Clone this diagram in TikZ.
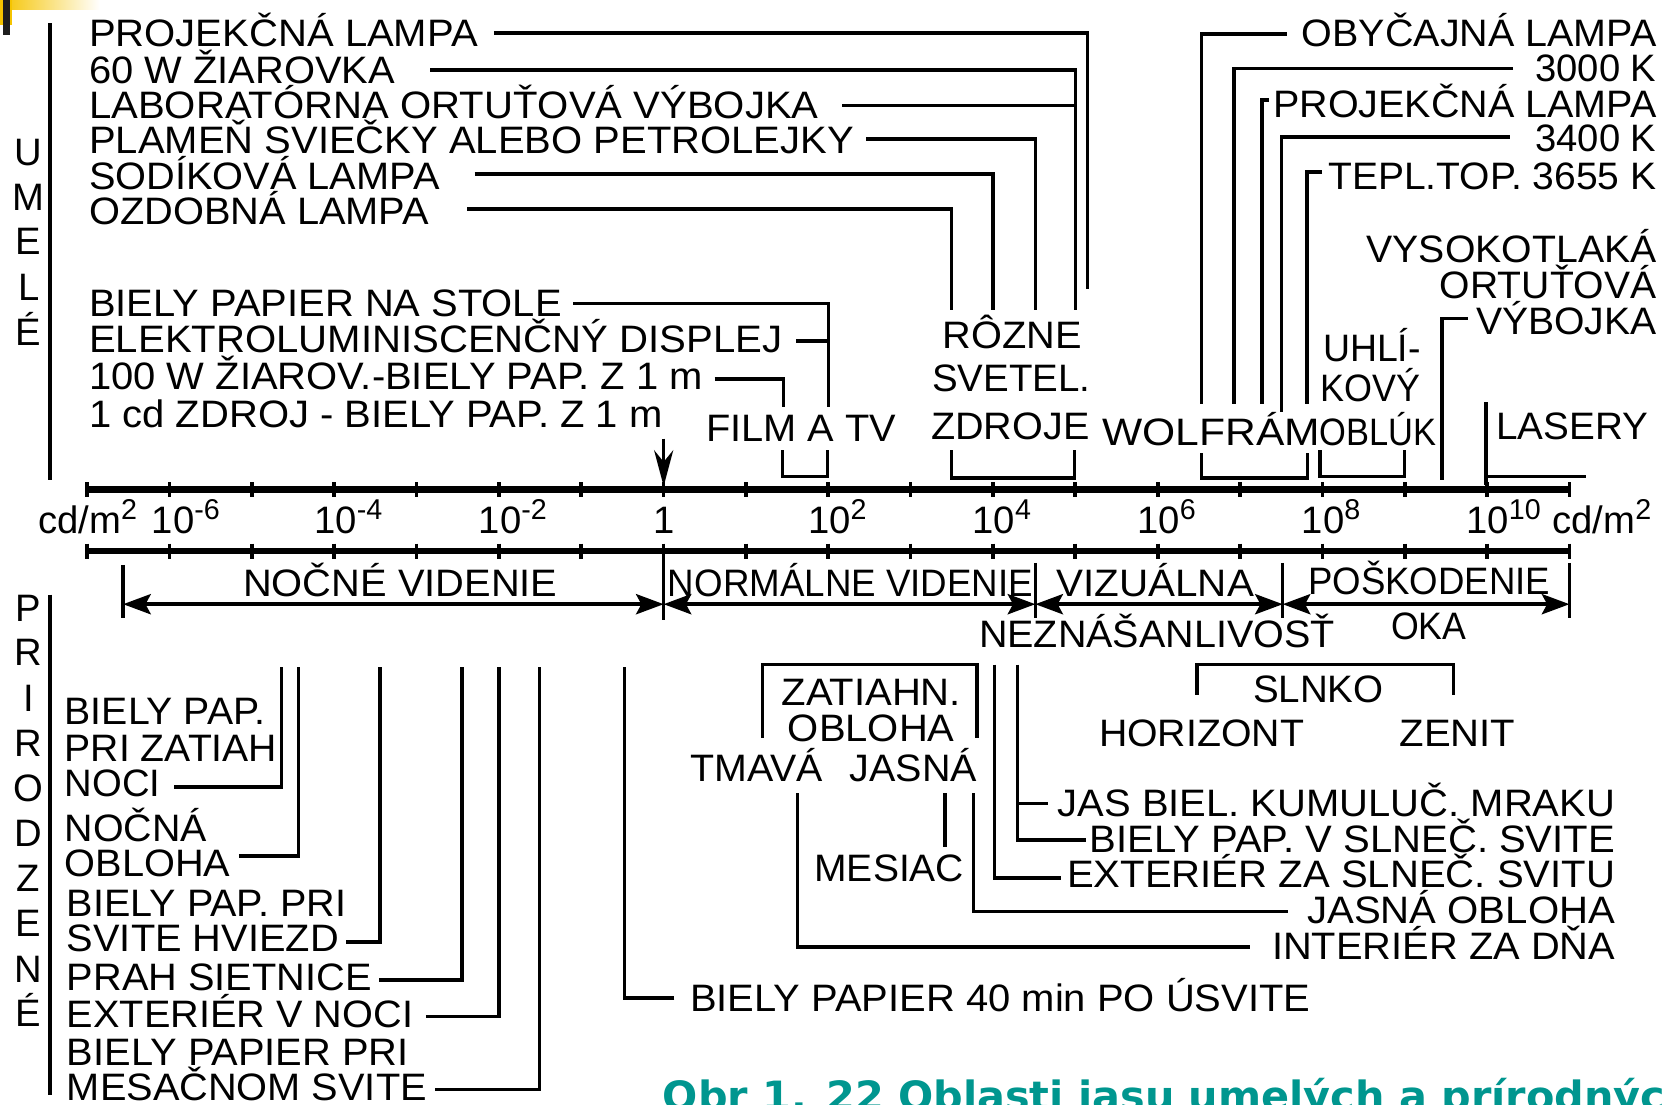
\documentclass[tikz,border=0pt]{standalone}
\usepackage{fontspec}
\setmainfont{Liberation Sans}
\newfontfamily\capfont{DejaVu Sans}
\usepackage{graphicx}
\usetikzlibrary{arrows.meta}
\definecolor{gold}{RGB}{245,196,0}
\definecolor{darkbar}{RGB}{30,30,30}
\definecolor{capteal}{RGB}{0,150,143}
\newsavebox\fitbox
\newdimen\fitw
\newcommand\fitto[2]{\sbox\fitbox{#2}\fitw=\wd\fitbox\pgfmathsetmacro\fitratio{(#1)/\fitw}\scalebox{\fitratio}[1]{\usebox\fitbox}}
\newcommand\expo[1]{\raisebox{13pt}{\fontsize{27}{27}\selectfont #1}}
\newcommand\putlab[5]{\node[lbl] (#1) at (#2,#4) {\fitto{#3-#2}{#5}};}
\begin{document}
\begin{tikzpicture}[x=1pt,y=-1pt,
  lbl/.style={anchor=base west,inner sep=0pt,outer sep=0pt,font=\fontsize{36}{36}\selectfont},
  vl/.style={anchor=base,inner sep=0pt,font=\fontsize{36}{36}\selectfont},
  ln/.style={line width=3.2pt},
  axisln/.style={line width=6pt},
  tk/.style={line width=3.5pt},
  rng/.style={line width=3.4pt,{Stealth[length=26pt,width=19pt,inset=5pt]}-{Stealth[length=26pt,width=19pt,inset=5pt]}}]
\useasboundingbox (0,0) rectangle (1568,1040);
\clip (0,0) rectangle (1568,1040);
% corner decoration
\shade[left color=gold,right color=white] (0,0) rectangle (94,9);
\fill[gold] (0,0) rectangle (11,24);
\fill[darkbar] (3,0) rectangle (9.4,33);
% side bars
\draw[ln] (47,22) -- (47,452);
\draw[ln] (47,560) -- (47,1031);
\foreach \l/\y [count=\i] in {U/156,M/198,E/240,L/283,É/325}
  \node[vl] (u\i) at (27,\y) {\l};
\foreach \l/\y [count=\i] in {P/585,R/627,I/670,R/712,O/755,D/797,Z/840,E/882,N/925,É/967}
  \node[vl] (p\i) at (27,\y) {\l};
% axes
\draw[axisln] (82,461) -- (1478,461);
\draw[axisln] (82,519) -- (1478,519);
\foreach \k in {0,...,18}{
  \draw[tk] ({82+77.556*\k},454) -- ++(0,14);
  \draw[tk] ({82+77.556*\k},512) -- ++(0,14);}
\node[lbl] (cdl) at (36,502) {cd/m\expo{2}};
\node[lbl] (m6) at (143,502) {10\expo{-6}};
\node[lbl] (m4) at (296,502) {10\expo{-4}};
\node[lbl] (m2) at (451,502) {10\expo{-2}};
\node[vl] (one) at (625,502) {1};
\node[lbl] (p2) at (761,502) {10\expo{2}};
\node[lbl] (p4) at (916,502) {10\expo{4}};
\node[lbl] (p6) at (1071,502) {10\expo{6}};
\node[lbl] (p8) at (1226,502) {10\expo{8}};
\node[lbl] (p10) at (1381,502) {10\expo{10}};
\node[lbl] (cdr) at (1462,502) {cd/m\expo{2}};
% upper-left labels
\putlab{a1}{84}{450}{44}{PROJEKČNÁ LAMPA}
\putlab{a2}{84}{372}{78.5}{60 W ŽIAROVKA}
\putlab{a3}{84}{771}{112}{LABORATÓRNA ORTUŤOVÁ VÝBOJKA}
\putlab{a4}{84}{804}{145}{PLAMEŇ SVIEČKY ALEBO PETROLEJKY}
\putlab{a5}{84}{414}{178}{SODÍKOVÁ LAMPA}
\putlab{a6}{84}{404}{211}{OZDOBNÁ LAMPA}
\draw[ln] (465,31) -- (1024,31) -- (1024,272);
\draw[ln] (405,66) -- (1013,66) -- (1013,292);
\draw[ln] (793,99.5) -- (1013,99.5);
\draw[ln] (816,131) -- (975,131) -- (975,292);
\draw[ln] (447,164) -- (935,164) -- (935,292);
\draw[ln] (440,197) -- (896,197) -- (896,292);
\putlab{b1}{84}{529}{298}{BIELY PAPIER NA STOLE}
\putlab{b2}{84}{737}{332}{ELEKTROLUMINISCENČNÝ DISPLEJ}
\putlab{b3}{84}{662}{367}{100 W ŽIAROV.-BIELY PAP. Z 1 m}
\putlab{b4}{84}{624}{403}{1 cd ZDROJ - BIELY PAP. Z 1 m}
\draw[ln] (540,286) -- (780,286) -- (780,383);
\draw[ln] (750,321) -- (780,321);
\draw[ln] (673,357) -- (738,357) -- (738,383);
\draw[ln,-{Stealth[length=34pt,width=18pt,inset=11pt]}] (625,413) -- (625,458);
\putlab{c1}{665}{844}{416}{FILM A TV}
\putlab{c2}{888}{1019}{328}{RÔZNE}
\putlab{c3}{878}{1027}{369}{SVETEL.}
\putlab{c4}{877}{1026}{414}{ZDROJE}
\draw[ln] (737,424) -- (737,449) -- (779,449) -- (779,424);
\draw[ln] (896,424) -- (896,450) -- (1012,450) -- (1012,424);
% upper-right labels
\putlab{d1}{1226}{1560}{44}{OBYČAJNÁ LAMPA}
\putlab{d2}{1446}{1560}{77}{3000 K}
\putlab{d3}{1199}{1560}{111}{PROJEKČNÁ LAMPA}
\putlab{d4}{1446}{1560}{143}{3400 K}
\putlab{d5}{1251}{1560}{178}{TEPL.TOP. 3655 K}
\putlab{d6}{1287}{1560}{247}{VYSOKOTLAKÁ}
\putlab{d7}{1356}{1560}{281}{ORTUŤOVÁ}
\putlab{d8}{1390}{1560}{315}{VÝBOJKA}
\putlab{d9}{1246}{1338}{340}{UHLÍ-}
\putlab{d10}{1244}{1338}{378}{KOVÝ}
\putlab{d11}{1038}{1243}{420}{WOLFRÁM}
\putlab{d12}{1243}{1353}{420}{OBLÚK}
\putlab{d13}{1409}{1552}{414}{LASERY}
\draw[ln] (1212,32) -- (1131.5,32) -- (1131.5,380);
\draw[ln] (1425,64.5) -- (1162,64.5) -- (1162,380);
\draw[ln] (1195,94) -- (1188.6,94) -- (1188.6,380);
\draw[ln] (1422,129) -- (1207,129) -- (1207,388);
\draw[ln] (1245,162) -- (1231,162) -- (1231,380);
\draw[ln] (1382,300) -- (1358,300) -- (1358,452);
\draw[ln] (1131.5,427) -- (1131.5,450) -- (1231.5,450) -- (1231.5,427);
\draw[ln] (1243,424) -- (1243,449) -- (1322.6,449) -- (1322.6,424);
\draw[ln] (1399.5,379) -- (1399.5,457);
\draw[ln] (1399.5,449) -- (1493.5,449);
% ranges
\draw[ln] (116,532) -- (116,582);
\draw[ln] (625,519) -- (625,584);
\draw[ln] (975,530) -- (975,582);
\draw[ln] (1208,530) -- (1208,582);
\draw[ln] (1478,530) -- (1478,582);
\draw[rng] (116,569) -- (625,569);
\draw[rng] (625,569) -- (975,569);
\draw[rng] (975,569) -- (1208,569);
\draw[rng] (1208,569) -- (1478,569);
\putlab{e1}{229}{525}{562}{NOČNÉ VIDENIE}
\putlab{e2}{629}{973}{562}{NORMÁLNE VIDENIE}
\putlab{e3}{995}{1181}{562}{VIZUÁLNA}
\putlab{e4}{922}{1257}{610}{NEZNÁŠANLIVOSŤ}
\putlab{e5}{1232}{1460}{560}{POŠKODENIE}
\putlab{e6}{1310}{1381}{602}{OKA}
% lower-left labels
\putlab{f1}{61}{250}{682}{BIELY PAP.}
\putlab{f2}{61}{261}{717}{PRI ZATIAH}
\putlab{f3}{61}{151}{750}{NOCI}
\putlab{f4}{61}{195}{792}{NOČNÁ}
\putlab{f5}{61}{217}{825}{OBLOHA}
\putlab{f6}{63}{326}{863}{BIELY PAP. PRI}
\putlab{f7}{63}{319}{896}{SVITE HVIEZD}
\putlab{f8}{63}{350}{933}{PRAH SIETNICE}
\putlab{f9}{63}{389}{968}{EXTERIÉR V NOCI}
\putlab{f10}{63}{385}{1003}{BIELY PAPIER PRI}
\putlab{f11}{63}{402}{1036}{MESAČNOM SVITE}
\draw[ln] (164,741) -- (265,741) -- (265,628);
\draw[ln] (225,806) -- (281,806) -- (281,628);
\draw[ln] (326,887) -- (358,887) -- (358,628);
\draw[ln] (357,923) -- (435,923) -- (435,628);
\draw[ln] (401,957) -- (470,957) -- (470,628);
\draw[ln] (410,1026) -- (508,1026) -- (508,628);
\draw[ln] (635,940) -- (588,940) -- (588,628);
\putlab{g1}{650}{1234}{953}{BIELY PAPIER 40 min PO ÚSVITE}
% lower-middle labels
\putlab{h1}{736}{905}{664}{ZATIAHN.}
\putlab{h2}{742}{899}{698}{OBLOHA}
\putlab{h3}{650}{775}{736}{TMAVÁ}
\putlab{h4}{800}{920}{736}{JASNÁ}
\putlab{h5}{767}{908}{830}{MESIAC}
\putlab{h6}{1180}{1303}{662}{SLNKO}
\putlab{h7}{1035}{1228}{703}{HORIZONT}
\putlab{h8}{1318}{1427}{703}{ZENIT}
\putlab{k1}{996}{1521}{769}{JAS BIEL. KUMULUČ. MRAKU}
\putlab{k2}{1026}{1521}{803}{BIELY PAP. V SLNEČ. SVITE}
\putlab{k3}{1005}{1521}{836}{EXTERIÉR ZA SLNEČ. SVITU}
\putlab{k4}{1231}{1521}{870}{JASNÁ OBLOHA}
\putlab{k5}{1198}{1521}{904}{INTERIÉR ZA DŇA}
\draw[ln] (718,695) -- (718,626) -- (920,626) -- (920,695);
\draw[ln] (751,747) -- (751,892) -- (1177,892);
\draw[ln] (917,747) -- (917,858.5) -- (1213,858.5);
\draw[ln] (890,747) -- (890,797.5);
\draw[ln] (936.6,626) -- (936.6,827) -- (999,827);
\draw[ln] (958.4,626) -- (958.4,791) -- (1023,791);
\draw[ln] (958.4,756.5) -- (987,756.5);
\draw[ln] (1127.3,654.5) -- (1127.3,626) -- (1369,626) -- (1369,654.5);
% caption
\node[anchor=base west,inner sep=0pt,text=capteal,font=\capfont\bfseries\fontsize{38}{38}\selectfont] (cap) at (624,1046) {\fitto{944}{Obr 1. 22 Oblasti jasu umelých a prírodnýc}};
\end{tikzpicture}
\end{document}
